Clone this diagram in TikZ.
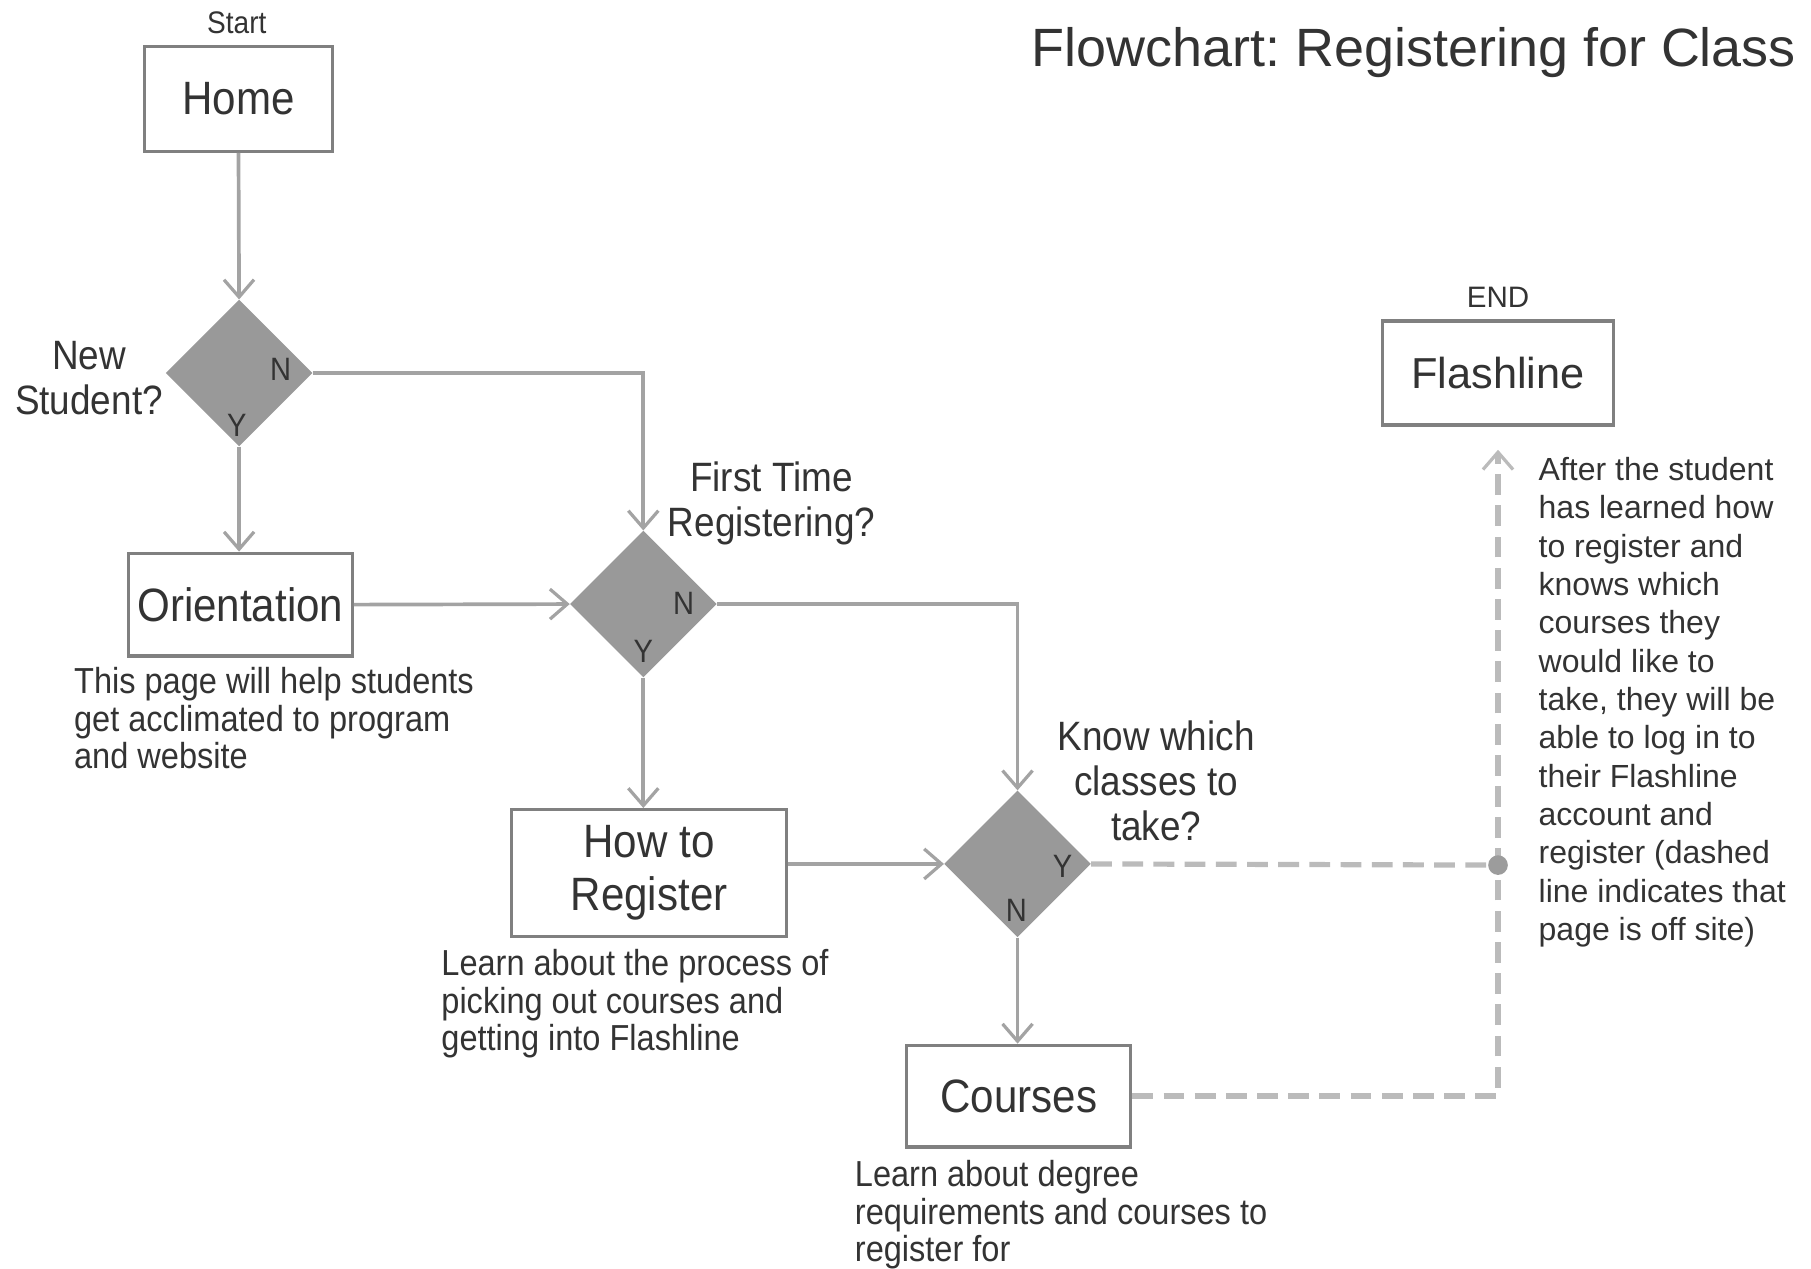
\documentclass[tikz,border=0pt]{standalone}
\usepackage{fontspec}
\setmainfont{Liberation Sans}
\newfontfamily\condf[FakeStretch=0.9]{Liberation Sans}
\usetikzlibrary{shapes.geometric,arrows.meta}
\frenchspacing
\definecolor{linegray}{HTML}{A3A3A3}
\definecolor{dashgray}{HTML}{BBBBBB}
\definecolor{dotgray}{HTML}{9C9C9C}
\definecolor{boxgray}{HTML}{808080}
\definecolor{diagray}{HTML}{999999}
\definecolor{txt}{HTML}{333333}
\tikzset{
  boxnode/.style={draw=boxgray, line width=2.8pt, fill=white, rectangle, inner sep=0pt,
    text=txt, font=\condf\fontsize{40.5}{46}\selectfont, align=center},
  dec/.style={diamond, fill=diagray, draw=none, inner sep=0pt, minimum width=127pt, minimum height=127pt},
  yn/.style={text=txt, font=\condf\fontsize{28}{30}\selectfont, inner sep=0pt},
  qlabel/.style={text=txt, font=\condf\fontsize{35.5}{39}\selectfont, align=center, inner sep=0pt},
  desc/.style={text=txt, font=\condf\fontsize{31.3}{32.5}\selectfont, align=left, inner sep=0pt, anchor=west},
  conn/.style={draw=linegray, line width=3.2pt, -{Straight Barb[length=15pt,width=26pt,line width=2.8pt]}},
  offsite/.style={draw=dashgray, line width=4.5pt, dash pattern=on 18pt off 9pt},
}
\begin{document}
\begin{tikzpicture}[x=1pt,y=-1pt]
\useasboundingbox (0,0) rectangle (1568,1098);

% title
\node[text=txt, font=\fontsize{46.7}{50}\selectfont, anchor=base west, inner sep=0pt] (title) at (893,58) {Flowchart: Registering for Class};

% boxes
\node[boxnode, minimum width=163pt, minimum height=91pt] (home) at (206.5,85.5) {Home};
\node[text=txt, font=\condf\fontsize{27}{30}\selectfont, inner sep=0pt] (start) at (205,20) {Start};

\node[boxnode, minimum width=194pt, minimum height=89pt] (orient) at (208,523.5) {Orientation};
\node[boxnode, minimum width=238pt, minimum height=110pt] (howto) at (562,756) {How to\\Register};
\node[boxnode, minimum width=194pt, minimum height=88pt] (courses) at (882,949) {Courses};
\node[boxnode, minimum width=200pt, minimum height=90pt, font=\fontsize{37.5}{42}\selectfont] (flash) at (1297,323) {Flashline};
\node[text=txt, font=\fontsize{25.6}{28}\selectfont, inner sep=0pt] (endlbl) at (1297,257) {END};

% decisions
\node[dec] (d1) at (207,323) {};
\node[dec] (d2) at (557,523) {};
\node[dec] (d3) at (881,748) {};

\node[yn] (d1n) at (243,320) {N};
\node[yn] (d1y) at (205,368) {Y};
\node[yn] (d2n) at (592,522) {N};
\node[yn] (d2y) at (557,564) {Y};
\node[yn] (d3y) at (920,750) {Y};
\node[yn] (d3n) at (880,788) {N};

% question labels
\node[qlabel] (q1) at (77,327) {New\\Student?};
\node[qlabel] (q2) at (668,436) {First Time\\Registering?};
\node[qlabel] (q3) at (1001,676) {Know which\\classes to\\take?};

% descriptions
\node[desc] (desc1) at (64,622) {This page will help students\\get acclimated to program\\and website};
\node[desc] (desc2) at (382,869) {Learn about the process of\\picking out courses and\\getting into Flashline};
\node[desc] (desc3) at (740,1052) {Learn about degree\\requirements and courses to\\register for};
\node[text=txt, font=\fontsize{27.7}{33.2}\selectfont, align=left, inner sep=0pt, anchor=west] (note) at (1332,608)
  {After the student\\has learned how\\to register and\\knows which\\courses they\\would like to\\take, they will be\\able to log in to\\their Flashline\\account and\\register (dashed\\line indicates that\\page is off site)};

% connectors
\draw[conn] (home.south) -- (d1.north);
\draw[conn] (d1.east) -| (d2.north);
\draw[conn] (d1.south) -- (d1.south |- orient.north);
\draw[conn] (orient.east) -- (d2.west);
\draw[conn] (d2.east) -| (d3.north);
\draw[conn] (d2.south) -- (d2.south |- howto.north);
\draw[conn] (howto.east |- d3.west) -- (d3.west);
\draw[conn] (d3.south) -- (d3.south |- courses.north);

% off-site dashed connectors
\coordinate (junc) at (1297,749);
\draw[offsite] (d3.east) -- (junc);
\draw[offsite, -{Straight Barb[length=15pt,width=26pt,line width=2.8pt]}, shorten >=20pt] (courses.east) -| (flash.south);
\fill[dotgray] (junc) circle (8.5pt);
\end{tikzpicture}
\end{document}
